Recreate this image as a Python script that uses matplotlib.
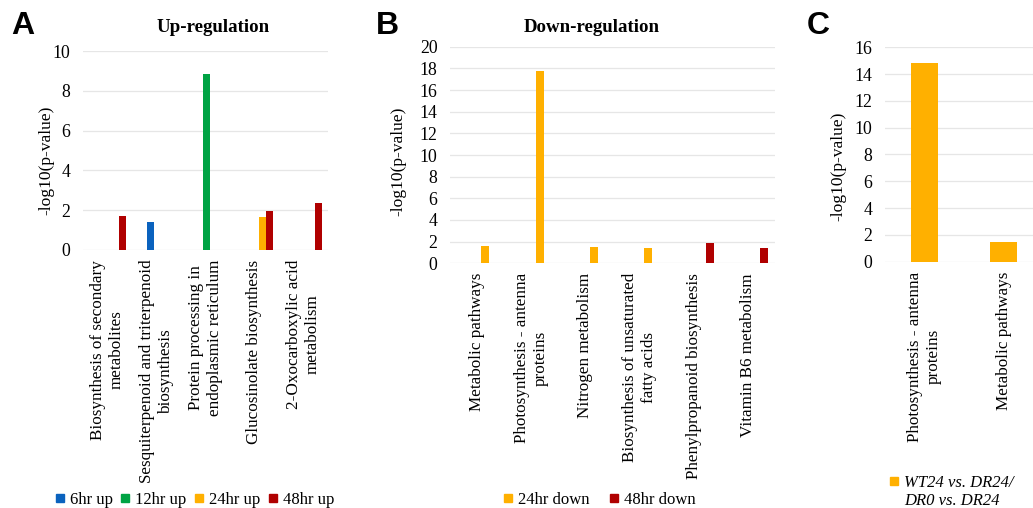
import matplotlib
matplotlib.use("Agg")
import matplotlib.pyplot as plt
import numpy as np
from matplotlib.lines import Line2D

# panel A: up-regulated KEGG pathways
up_pathways = ["Biosynthesis of secondary\nmetabolites",
               "Sesquiterpenoid and triterpenoid\nbiosynthesis",
               "Protein processing in\nendoplasmic reticulum",
               "Glucosinolate biosynthesis",
               "2-Oxocarboxylic acid\nmetabolism"]
up_6hr = [0, 1.41, 0, 0, 0]
up_12hr = [0, 0, 8.86, 0, 0]
up_24hr = [0, 0, 0, 1.66, 0]
up_48hr = [1.71, 0, 0, 1.96, 2.36]
up_series = ["6hr up", "12hr up", "24hr up", "48hr up"]

# panel B: down-regulated KEGG pathways
down_pathways = ["Metabolic pathways",
                 "Photosynthesis - antenna\nproteins",
                 "Nitrogen metabolism",
                 "Biosynthesis of unsaturated\nfatty acids",
                 "Phenylpropanoid biosynthesis",
                 "Vitamin B6 metabolism"]
down_24hr = [1.63, 17.78, 1.50, 1.38, 0, 0]
down_48hr = [0, 0, 0, 0, 1.87, 1.41]
down_series = ["24hr down", "48hr down"]

# panel C
c_pathways = ["Photosynthesis - antenna\nproteins", "Metabolic pathways"]
c_values = [14.85, 1.49]
c_label = ["WT24 vs. DR24/", "DR0 vs. DR24"]

BLUE, GREEN, ORANGE, RED = "#0A62BE", "#00A344", "#FFB000", "#B00000"
GRID = "#e6e6e6"

plt.rcParams["font.family"] = ["Liberation Serif", "DejaVu Serif"]
plt.rcParams["font.size"] = 12

W, H = 1033, 508
fig = plt.figure(figsize=(W / 100, H / 100), dpi=100)


def px_axes(x0, x1, y_top, y_bot):
    return fig.add_axes([x0 / W, 1 - y_bot / H, (x1 - x0) / W, (y_bot - y_top) / H])


def style(ax, labels, ymax, step):
    n = len(labels)
    ax.set_xlim(-0.5, n - 0.5)
    ax.set_ylim(0, ymax)
    ax.set_yticks(np.arange(0, ymax + 0.1, step))
    ax.set_xticks(np.arange(n))
    ax.set_xticklabels(labels, rotation=90, ha="center", va="top",
                       multialignment="center", linespacing=1.2, fontsize=12.3)
    for s in ax.spines.values():
        s.set_visible(False)
    ax.tick_params(axis="both", length=0)
    ax.tick_params(axis="y", pad=9, labelsize=12.8)
    ax.tick_params(axis="x", pad=7)
    ax.grid(axis="y", color=GRID, lw=0.9)
    ax.set_axisbelow(True)


# ---- A ----
axA = px_axes(83, 328, 51, 250)
x = np.arange(len(up_pathways))
w = 0.143
shift = 0.085
for k, (vals, col) in enumerate(zip([up_6hr, up_12hr, up_24hr, up_48hr],
                                    [BLUE, GREEN, ORANGE, RED])):
    axA.bar(x + (k - 1.5) * w + shift, vals, w, color=col, lw=0)
style(axA, up_pathways, 10, 2)

# ---- B ----
axB = px_axes(450, 775, 46.7, 263.3)
x = np.arange(len(down_pathways))
w = 0.148
for k, (vals, col) in zip([2, 3], [(down_24hr, ORANGE), (down_48hr, RED)]):
    axB.bar(x + (k - 1.5) * w + 0.081, vals, w, color=col, lw=0)
style(axB, down_pathways, 20, 2)

# ---- C ----
axC = px_axes(885, 1043, 47.3, 261.7)
axC.bar(np.arange(len(c_pathways)), c_values, 0.354, color=ORANGE, lw=0)
style(axC, c_pathways, 16, 2)

# titles, panel letters, y labels
fig.text(213 / W, 1 - 27 / H, "Up-regulation", ha="center", va="center",
         fontweight="bold", fontsize=13.6)
fig.text(592 / W, 1 - 27 / H, "Down-regulation", ha="center", va="center",
         fontweight="bold", fontsize=13.6)
for lx, letter in [(11, "A"), (376, "B"), (807, "C")]:
    fig.text(lx / W, 1 - 26 / H, letter, ha="left", va="center",
             family="Liberation Sans", fontweight="bold", fontsize=23)
for lx, ly in [(46, 160), (398, 161), (838, 166)]:
    fig.text(lx / W, 1 - ly / H, "-log10(p-value)", rotation=90,
             ha="center", va="center", fontsize=12.6)


def sq(col):
    return Line2D([], [], marker="s", ls="", color=col, markersize=5.5)


leg_kw = dict(frameon=False, fontsize=12, handlelength=0.5, handletextpad=0.35,
              borderpad=0, borderaxespad=0)
fig.legend([sq(c) for c in [BLUE, GREEN, ORANGE, RED]], up_series, ncol=4,
           columnspacing=0.5, loc="center",
           bbox_to_anchor=(195 / W, 1 - 500 / H), **leg_kw)
fig.legend([sq(ORANGE), sq(RED)], down_series, ncol=2, columnspacing=1.2,
           loc="center", bbox_to_anchor=(600 / W, 1 - 500 / H), **leg_kw)
blank = Line2D([], [], ls="", marker="")
fig.legend([sq(ORANGE), blank], c_label, ncol=1, labelspacing=0.12,
           loc="center left", bbox_to_anchor=(890 / W, 1 - 492 / H),
           prop=dict(family="Liberation Serif", style="italic", size=12),
           **{k: v for k, v in leg_kw.items() if k != "fontsize"})

fig.savefig("out.png", dpi=100)
